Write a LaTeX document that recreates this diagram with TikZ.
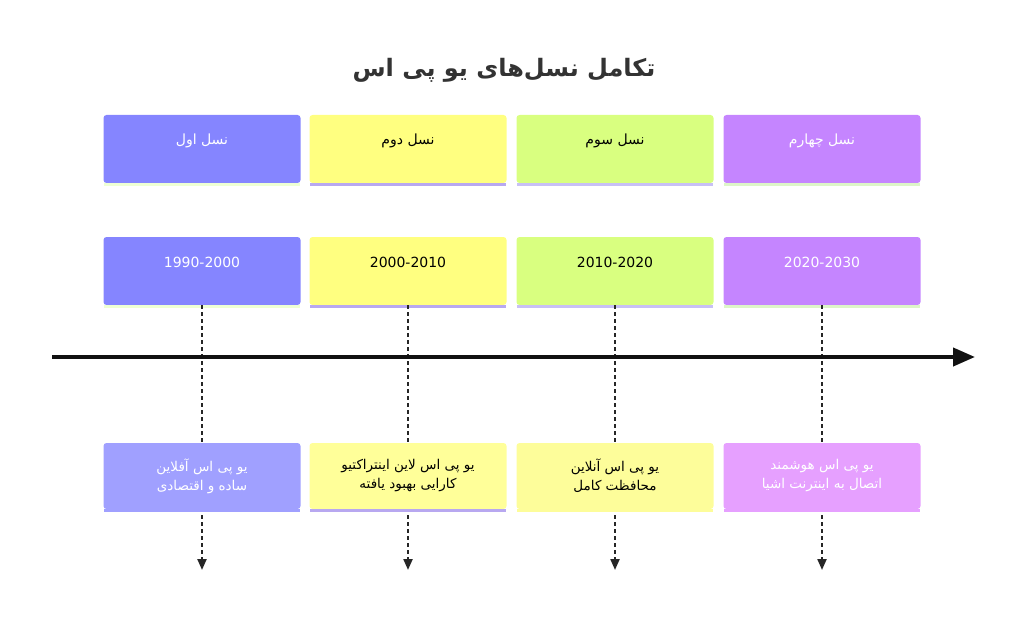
\documentclass[tikz,border=0pt]{standalone}
\usepackage{fontspec}
\setmainfont{DejaVu Sans}
\newfontfamily\fafont[Script=Arabic]{DejaVu Sans}
\TeXXeTstate=1
\usetikzlibrary{arrows.meta}
\definecolor{ga}{HTML}{8585FF}
\definecolor{gb}{HTML}{FFFF80}
\definecolor{gc}{HTML}{D9FF80}
\definecolor{gd}{HTML}{C585FF}
\definecolor{ea}{HTML}{A0A0FF}
\definecolor{eb}{HTML}{FFFF99}
\definecolor{ec}{HTML}{FDFD9A}
\definecolor{ed}{HTML}{E6A0FF}
\definecolor{sa}{HTML}{EEFFD4}
\definecolor{sb}{HTML}{B8A8F0}
\definecolor{sc}{HTML}{C8C0F5}
\definecolor{sd}{HTML}{DDF5C8}
\definecolor{axis}{HTML}{111111}
\begin{document}
\begin{tikzpicture}[x=1pt, y=-1pt]
        \useasboundingbox (0,0) rectangle (1024,620);
        \tikzstyle{every node}=[rectangle, rounded corners=3pt, inner sep=0pt, minimum width=197pt]
        \tikzstyle{head}=[text height=30pt, text depth=38pt, font=\fontsize{14}{16}\selectfont]
        \tikzstyle{event}=[minimum height=66pt, align=center, font=\fontsize{13.5}{19}\selectfont\fafont]
        \tikzstyle{timeline}=[dash pattern=on 4pt off 3pt, line width=2.2pt, draw=black!85, -{Triangle[length=11pt, width=9pt]}]

        \path (504,70) node[rectangle, font=\fontsize{24}{28}\selectfont\fafont\bfseries, text=black!80] (title) {\beginR تکامل نسل‌های یو پی اس\endR};

        \foreach \i/\x/\c/\t/\s/\gen/\per in {
          1/202/ga/white/sa/{نسل اول}/1990-2000,
          2/408/gb/black/sb/{نسل دوم}/2000-2010,
          3/615/gc/black/sc/{نسل سوم}/2010-2020,
          4/822/gd/white/sd/{نسل چهارم}/2020-2030}
        {
          \path (\x,149) node[head, fill=\c, text=\t] (g\i) {\fafont\beginR\gen\endR};
          \path (\x,271) node[head, fill=\c, text=\t] (p\i) {\per};
          \draw[\s, line width=3pt] ([xshift=1pt, yshift=-1.5pt]g\i.south west) -- ([xshift=-1pt, yshift=-1.5pt]g\i.south east);
          \draw[\s, line width=3pt] ([xshift=1pt, yshift=-1.5pt]p\i.south west) -- ([xshift=-1pt, yshift=-1.5pt]p\i.south east);
          \coordinate (end\i) at (\x,570);
          \draw[timeline] (p\i.south) -- (end\i);
        }

        \coordinate (ax0) at (52,357);
        \coordinate (ax1) at (975,357);
        \draw[axis, line width=4pt, -{Triangle[length=22pt, width=18pt]}] (ax0) -- (ax1);

        \foreach \i/\x/\c/\t/\s/\top/\bot in {
          1/202/ea/white/ea/{یو پی اس آفلاین}/{ساده و اقتصادی},
          2/408/eb/black/sb/{یو پی اس لاین اینتراکتیو}/{کارایی بهبود یافته},
          3/615/ec/black/ec/{یو پی اس آنلاین}/{محافظت کامل},
          4/822/ed/white/ed/{یو پی اس هوشمند}/{اتصال به اینترنت اشیا}}
        {
          \path (\x,476) node[event, fill=\c, text=\t] (e\i) {\beginR\top\endR\\\beginR\bot\endR};
          \draw[\s, line width=3pt] ([xshift=1pt, yshift=-1.5pt]e\i.south west) -- ([xshift=-1pt, yshift=-1.5pt]e\i.south east);
        }
      \end{tikzpicture}
\end{document}
